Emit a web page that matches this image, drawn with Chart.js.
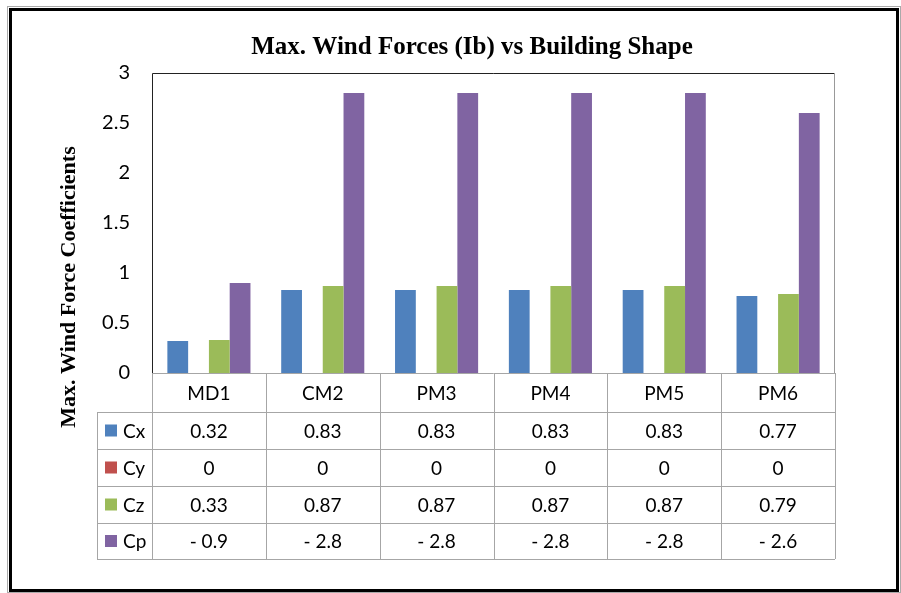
<!DOCTYPE html>
<html>
<head>
<meta charset="utf-8">
<script src="https://cdn.jsdelivr.net/npm/chart.js@4/dist/chart.umd.min.js"></script>
<style>
  html, body { margin: 0; padding: 0; background: #fff; }
  #wrap { width: 901px; height: 593px; }
</style>
</head>
<body>
<div id="wrap"><canvas id="wind-chart" width="901" height="593"></canvas></div>
<script>
// chart data
var shapes = ["MD1", "CM2", "PM3", "PM4", "PM5", "PM6"];
var cx = [0.32, 0.83, 0.83, 0.83, 0.83, 0.77];
var cy = [0, 0, 0, 0, 0, 0];
var cz = [0.33, 0.87, 0.87, 0.87, 0.87, 0.79];
var cp = [-0.9, -2.8, -2.8, -2.8, -2.8, -2.6];
var yTicks = [0, 0.5, 1, 1.5, 2, 2.5, 3];

var seriesNames = ["Cx", "Cy", "Cz", "Cp"];
var seriesColors = ["#4f81bd", "#c0504d", "#9bbb59", "#8064a2"];
var seriesData = [cx, cy, cz, cp];

function cellText(s, v) {
  if (s === 3) return "- " + Math.abs(v);
  return String(v);
}

// frame, titles and data table under the bars
var tablePlugin = {
  id: 'dataTable',
  afterDraw: function(chart) {
    var ctx = chart.ctx;
    var area = chart.chartArea;
    var xs = chart.scales.x;
    var colW = (area.right - area.left) / shapes.length;
    var rowY = [area.bottom, 412, 449, 486, 523, 559];
    var legLeft = 97;
    ctx.save();

    // plot frame
    ctx.lineWidth = 1;
    ctx.strokeStyle = "#222";
    ctx.beginPath();
    ctx.moveTo(area.left + 0.5, area.bottom);
    ctx.lineTo(area.left + 0.5, area.top + 0.5);
    ctx.lineTo(area.right, area.top + 0.5);
    ctx.stroke();
    ctx.strokeStyle = "#999";
    ctx.beginPath();
    ctx.moveTo(area.right - 0.5, area.top);
    ctx.lineTo(area.right - 0.5, area.bottom);
    ctx.stroke();

    // table grid
    ctx.strokeStyle = "#a6a6a6";
    ctx.beginPath();
    for (var r = 0; r < rowY.length; r++) {
      var lx = r === 0 ? area.left : legLeft;
      ctx.moveTo(lx, rowY[r] + 0.5);
      ctx.lineTo(area.right, rowY[r] + 0.5);
    }
    for (var i = 0; i <= shapes.length; i++) {
      var vx = Math.round(area.left + i * colW) + 0.5;
      ctx.moveTo(vx, rowY[0]);
      ctx.lineTo(vx, rowY[5]);
    }
    ctx.moveTo(legLeft + 0.5, rowY[1]);
    ctx.lineTo(legLeft + 0.5, rowY[5]);
    ctx.stroke();

    // header and values
    ctx.fillStyle = "#000";
    ctx.font = "19px Lato";
    ctx.textAlign = "center";
    ctx.textBaseline = "middle";
    shapes.forEach(function(name, i) {
      var cxp = xs.getPixelForValue(i);
      ctx.fillText(name, cxp, (rowY[0] + rowY[1]) / 2 + 1);
      for (var s = 0; s < 4; s++) {
        ctx.fillText(cellText(s, seriesData[s][i]), cxp, (rowY[s + 1] + rowY[s + 2]) / 2 + 1);
      }
    });

    // legend keys
    ctx.textAlign = "left";
    for (var s = 0; s < 4; s++) {
      var my = (rowY[s + 1] + rowY[s + 2]) / 2;
      ctx.fillStyle = seriesColors[s];
      ctx.fillRect(105, my - 6, 12, 12);
      ctx.fillStyle = "#000";
      ctx.fillText(seriesNames[s], 123, my + 1);
    }

    // chart title
    ctx.textAlign = "center";
    ctx.font = "bold 25px 'Liberation Serif'";
    ctx.fillText("Max. Wind Forces (Ib) vs Building Shape", 472, 48);

    // y axis title
    ctx.save();
    ctx.translate(69, 287);
    ctx.rotate(-Math.PI / 2);
    ctx.font = "bold 22px 'Liberation Serif'";
    ctx.fillText("Max. Wind Force Coefficients", 0, 0);
    ctx.restore();

    // outer border
    ctx.strokeStyle = "#aaa";
    ctx.lineWidth = 1;
    ctx.strokeRect(7.5, 6.5, 893, 586);
    ctx.strokeStyle = "#000";
    ctx.lineWidth = 3;
    ctx.strokeRect(10.5, 9.5, 887, 581);
    ctx.restore();
  }
};

(function() {
  var el = document.getElementById('wind-chart');
  new Chart(el, {
    type: 'bar',
    data: {
      labels: shapes,
      datasets: seriesNames.map(function(n, s) {
        return {
          label: n,
          backgroundColor: seriesColors[s],
          borderWidth: 0,
          data: seriesData[s].map(function(v) { return Math.abs(v); }),
          barPercentage: 1,
          categoryPercentage: 0.73
        };
      })
    },
    options: {
      responsive: false,
      animation: false,
      layout: { padding: { left: 0, top: 73, right: 66, bottom: 220 } },
      plugins: { legend: { display: false }, tooltip: { enabled: false } },
      scales: {
        x: { display: false },
        y: {
          min: 0,
          max: 3,
          afterFit: function(scale) { scale.width = 152; },
          afterBuildTicks: function(scale) {
            scale.ticks = yTicks.map(function(v) { return { value: v }; });
          },
          grid: { display: false, drawTicks: false },
          border: { display: false },
          ticks: {
            padding: 22,
            color: "#000",
            font: { family: "Lato", size: 20 },
            callback: function(v) { return String(v); }
          }
        }
      }
    },
    plugins: [tablePlugin]
  });
})();
</script>
</body>
</html>
